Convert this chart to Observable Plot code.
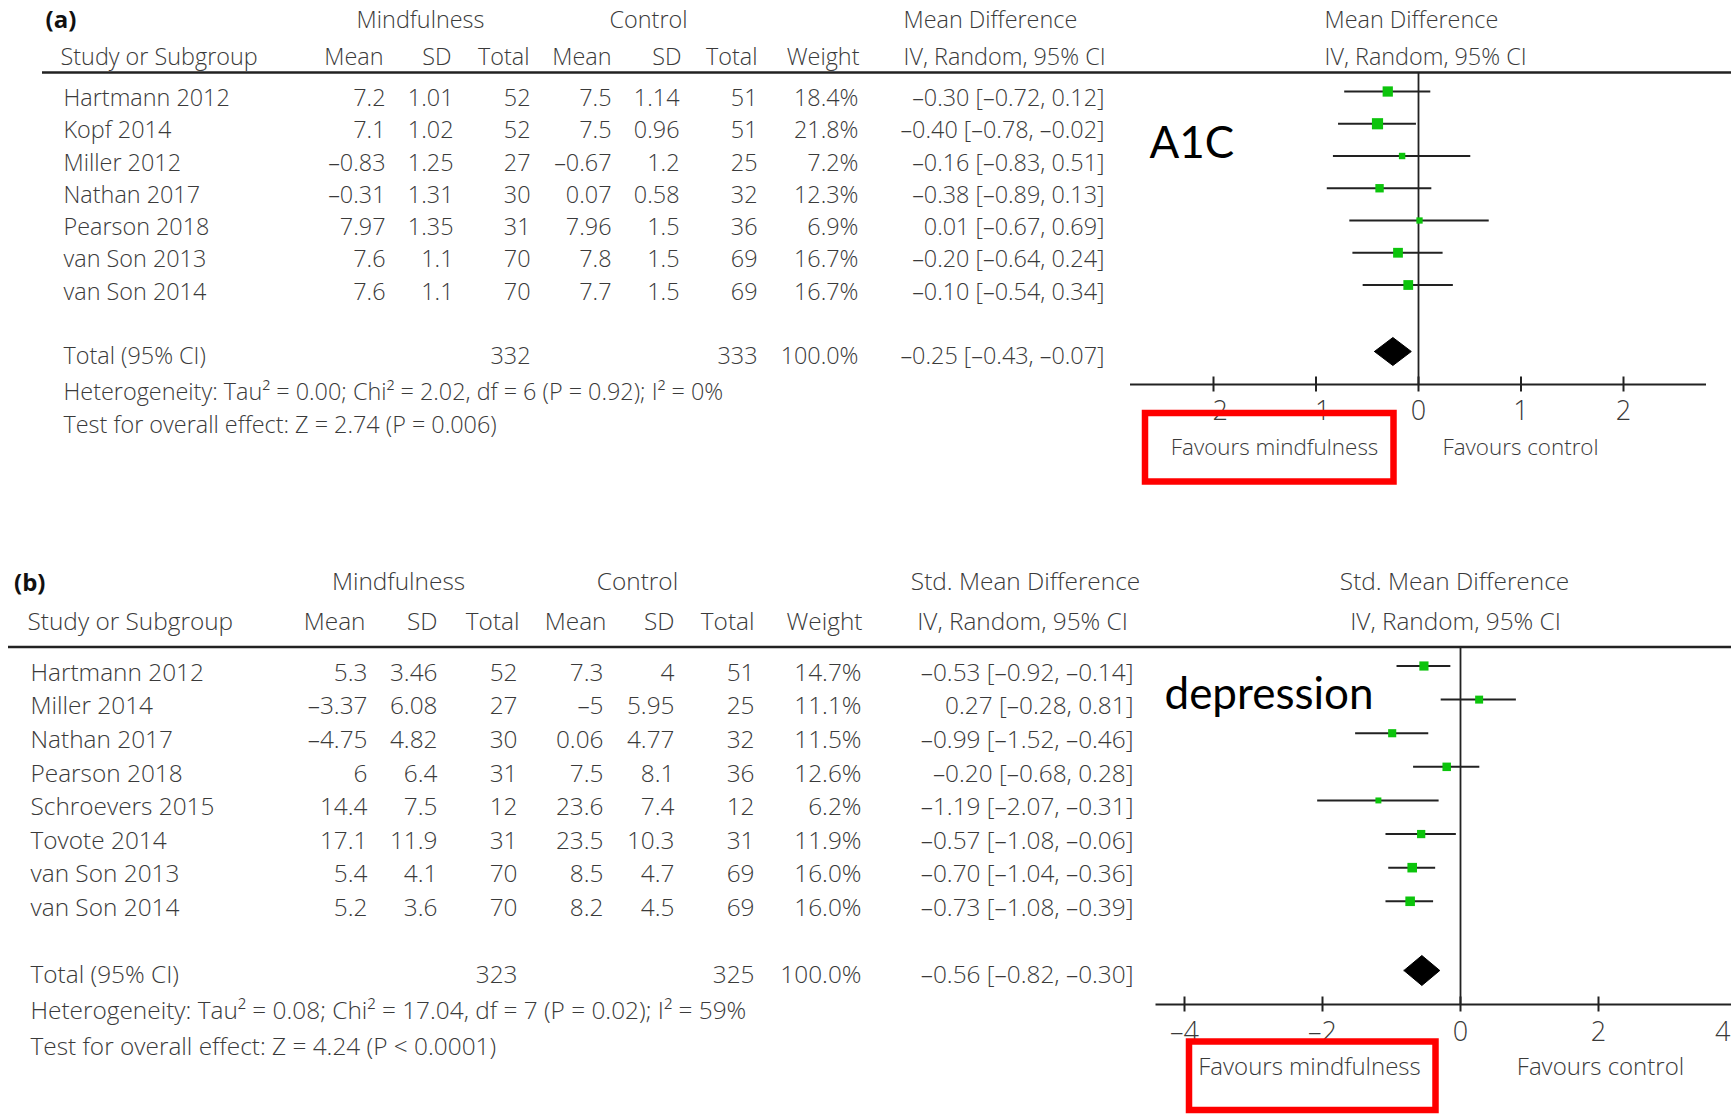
<!DOCTYPE html>
<html><head><meta charset="utf-8">
<script src="https://cdn.jsdelivr.net/npm/d3@7"></script>
<script src="https://cdn.jsdelivr.net/npm/@observablehq/plot@0.6"></script>
<style>
html,body{margin:0;padding:0;background:#fff;}
#chart{width:1731px;height:1115px;overflow:hidden;background:#fff;}
#chart svg{display:block;}
</style></head><body><div id="chart"></div>
<script>
// ---------- Panel (a): A1C ----------
const studiesA = ["Hartmann 2012","Kopf 2014","Miller 2012","Nathan 2017","Pearson 2018","van Son 2013","van Son 2014"];
const mMeanA = [7.2, 7.1, -0.83, -0.31, 7.97, 7.6, 7.6];
const mSdA   = [1.01, 1.02, 1.25, 1.31, 1.35, 1.1, 1.1];
const mNA    = [52, 52, 27, 30, 31, 70, 70];
const cMeanA = [7.5, 7.5, -0.67, 0.07, 7.96, 7.8, 7.7];
const cSdA   = [1.14, 0.96, 1.2, 0.58, 1.5, 1.5, 1.5];
const cNA    = [51, 51, 25, 32, 36, 69, 69];
const weightA = [18.4, 21.8, 7.2, 12.3, 6.9, 16.7, 16.7];
const estA = [-0.30, -0.40, -0.16, -0.38, 0.01, -0.20, -0.10];
const loA  = [-0.72, -0.78, -0.83, -0.89, -0.67, -0.64, -0.54];
const hiA  = [0.12, -0.02, 0.51, 0.13, 0.69, 0.24, 0.34];
const totalNA = [332, 333];
const totalWeightA = 100.0;
const totalCIA = [-0.25, -0.43, -0.07];
const hetA = "Heterogeneity: Tau² = 0.00; Chi² = 2.02, df = 6 (P = 0.92); I² = 0%";
const testA = "Test for overall effect: Z = 2.74 (P = 0.006)";
const ticksA = [-2, -1, 0, 1, 2];
const methodA = ["Mean Difference", "IV, Random, 95% CI"];
const labelA = "A1C";

// ---------- Panel (b): depression ----------
const studiesB = ["Hartmann 2012","Miller 2014","Nathan 2017","Pearson 2018","Schroevers 2015","Tovote 2014","van Son 2013","van Son 2014"];
const mMeanB = [5.3, -3.37, -4.75, 6, 14.4, 17.1, 5.4, 5.2];
const mSdB   = [3.46, 6.08, 4.82, 6.4, 7.5, 11.9, 4.1, 3.6];
const mNB    = [52, 27, 30, 31, 12, 31, 70, 70];
const cMeanB = [7.3, -5, 0.06, 7.5, 23.6, 23.5, 8.5, 8.2];
const cSdB   = [4, 5.95, 4.77, 8.1, 7.4, 10.3, 4.7, 4.5];
const cNB    = [51, 25, 32, 36, 12, 31, 69, 69];
const weightB = [14.7, 11.1, 11.5, 12.6, 6.2, 11.9, 16.0, 16.0];
const estB = [-0.53, 0.27, -0.99, -0.20, -1.19, -0.57, -0.70, -0.73];
const loB  = [-0.92, -0.28, -1.52, -0.68, -2.07, -1.08, -1.04, -1.08];
const hiB  = [-0.14, 0.81, -0.46, 0.28, -0.31, -0.06, -0.36, -0.39];
const totalNB = [323, 325];
const totalWeightB = 100.0;
const totalCIB = [-0.56, -0.82, -0.30];
const hetB = "Heterogeneity: Tau² = 0.08; Chi² = 17.04, df = 7 (P = 0.02); I² = 59%";
const testB = "Test for overall effect: Z = 4.24 (P < 0.0001)";
const ticksB = [-4, -2, 0, 2, 4];
const methodB = ["Std. Mean Difference", "IV, Random, 95% CI"];
const labelB = "depression";

const colHeaders = ["Mean", "SD", "Total", "Mean", "SD", "Total", "Weight"];
const favours = ["Favours mindfulness", "Favours control"];

// ---------- helpers ----------
const INK = "#3a3a3a";
const LINE = "#222";
const GREEN = "#0cc40c";
const WEIGHT = 350;
const dash = v => String(v).replace("-", "\u2013");
const pct = v => v.toFixed(1) + "%";
const ciText = (e, l, h) => `${dash(e.toFixed(2))} [${dash(l.toFixed(2))}, ${dash(h.toFixed(2))}]`;

function panel(d, L) {
  const n = d.studies.length;
  const rows = d.studies.map((s, i) => ({
    i, study: s, mMean: d.mMean[i], mSd: d.mSd[i], mN: d.mN[i],
    cMean: d.cMean[i], cSd: d.cSd[i], cN: d.cN[i], w: d.weight[i],
    est: d.est[i], lo: d.lo[i], hi: d.hi[i]
  }));
  const T = n + 1; // total row index
  const rowStep = (L.rowTotal - L.row0) / T;
  const ry = px => (px - L.row0) / rowStep;
  const [xd0, xd1] = L.xDomain, [xr0, xr1] = L.xRange;
  const rx = px => xd0 + (px - xr0) / (xr1 - xr0) * (xd1 - xd0);
  const toPx = v => xr0 + (v - xd0) / (xd1 - xd0) * (xr1 - xr0);
  const font = {fontFamily: "Open Sans", fontWeight: WEIGHT, fill: INK, fontSize: L.fs};

  const label = (txt, x, y, anchor = "start", o = {}) =>
    Plot.text([txt], {text: t => t, frameAnchor: "top-left", dx: x, dy: y,
      lineAnchor: "middle", textAnchor: anchor, ...font, ...o});
  const col = (acc, x) =>
    Plot.text(rows, {y: "i", text: acc, frameAnchor: "left", dx: x,
      textAnchor: "end", lineAnchor: "middle", ...font});
  const totalCell = (txt, x, anchor = "end") =>
    Plot.text([txt], {y: T, text: t => t, frameAnchor: "left", dx: x,
      textAnchor: anchor, lineAnchor: "middle", ...font});

  const [tEst, tLo, tHi] = d.totalCI;
  const hh = L.diamondHalf / rowStep;
  const diamond = [
    {x: tLo, y: T}, {x: tEst, y: T - hh}, {x: tHi, y: T}, {x: tEst, y: T + hh}, {x: tLo, y: T}
  ];
  // tick labels that would fall past the right edge are right-aligned to the edge
  const inTicks = d.ticks.filter(t => toPx(t) < 1731 - 8);
  const edgeTicks = d.ticks.filter(t => toPx(t) >= 1731 - 8);
  const tickFont = {fontFamily: "Open Sans", fontWeight: WEIGHT, fill: INK, fontSize: L.tickFs, lineAnchor: "middle"};

  const marks = [
    // headers
    label(d.group, L.groupX, L.groupY, "start", {fontWeight: "bold", fill: "#111", fontSize: L.groupFs}),
    label("Mindfulness", L.mindX, L.hdrY1, "middle"),
    label("Control", L.ctrlX, L.hdrY1, "middle"),
    label(d.method[0], L.mdHdr[0], L.hdrY1, L.mdHdr[1]),
    label(d.method[1], L.mdHdr2[0], L.hdrY2, L.mdHdr2[1]),
    label(d.method[0], L.plotHdr[0], L.hdrY1, L.plotHdr[1]),
    label(d.method[1], L.plotHdr2[0], L.hdrY2, L.plotHdr2[1]),
    label("Study or Subgroup", L.studyHdrX, L.hdrY2),
    ...colHeaders.map((h, k) => label(h, L.colHdr[k], L.hdrY2, "end")),
    Plot.ruleY([ry(L.ruleY)], {x1: rx(L.ruleX0), x2: rx(1731), stroke: LINE, strokeWidth: 2.5}),
    // table body
    Plot.text(rows, {y: "i", text: "study", frameAnchor: "left", dx: L.studyX,
      textAnchor: "start", lineAnchor: "middle", ...font}),
    col(r => dash(r.mMean), L.colVal[0]),
    col(r => dash(r.mSd), L.colVal[1]),
    col(r => String(r.mN), L.colVal[2]),
    col(r => dash(r.cMean), L.colVal[3]),
    col(r => dash(r.cSd), L.colVal[4]),
    col(r => String(r.cN), L.colVal[5]),
    col(r => pct(r.w), L.colVal[6]),
    col(r => ciText(r.est, r.lo, r.hi), L.ciRight),
    // total row
    totalCell("Total (95% CI)", L.studyX, "start"),
    totalCell(String(d.totalN[0]), L.colVal[2]),
    totalCell(String(d.totalN[1]), L.colVal[5]),
    totalCell(pct(d.totalWeight), L.colVal[6]),
    totalCell(ciText(tEst, tLo, tHi), L.ciRight),
    label(d.het, L.studyX, L.hetY),
    label(d.test, L.studyX, L.testY),
    // forest plot
    Plot.ruleX([0], {y1: ry(L.ruleY), y2: ry(L.axisY), stroke: LINE, strokeWidth: 1.8}),
    Plot.ruleY([ry(L.axisY)], {x1: rx(L.axisX0), x2: rx(L.axisX1), stroke: LINE, strokeWidth: 2}),
    Plot.ruleX(d.ticks, {x: t => t, y1: ry(L.axisY - 7.5), y2: ry(L.axisY + 7.5), stroke: LINE, strokeWidth: 2}),
    Plot.text(inTicks, {x: t => t, y: ry(L.tickLabelY), text: t => dash(t), ...tickFont}),
    Plot.text(edgeTicks, {y: ry(L.tickLabelY), text: t => dash(t), frameAnchor: "right", textAnchor: "end", dx: -1, ...tickFont}),
    Plot.ruleY(rows, {y: "i", x1: "lo", x2: "hi", dy: -7, stroke: LINE, strokeWidth: 2}),
    Plot.dot(rows, {x: "est", y: "i", r: "w", symbol: "square", fill: GREEN, stroke: null, dy: -7}),
    Plot.line(diamond, {x: "x", y: "y", fill: "black", stroke: "black", strokeWidth: 1, dy: -5}),
    label(favours[0], L.favX[0], L.favY, "middle", {fontSize: L.favFs}),
    label(favours[1], L.favX[1], L.favY, "middle", {fontSize: L.favFs}),
    // annotation
    label(d.label, L.labelX, L.labelY, "start", {fontFamily: "Lato", fontWeight: 400, fontSize: L.labelFs, fill: "#000"}),
    Plot.rect([0], {x1: rx(L.box[0]), x2: rx(L.box[1]), y1: ry(L.box[2]), y2: ry(L.box[3]),
      fill: "none", stroke: "#ff0000", strokeWidth: 6.5})
  ];

  return Plot.plot({
    width: 1731, height: L.height,
    marginTop: 0, marginRight: 0, marginBottom: 0, marginLeft: 0,
    x: {domain: L.xDomain, range: L.xRange, axis: null},
    y: {domain: [0, T], range: [L.row0, L.rowTotal], axis: null},
    r: {type: "sqrt", domain: [0, 100], range: [0, 13.5]},
    style: {background: "white", color: INK, fontFamily: "Open Sans"},
    marks
  });
}

const dataA = {group: "(a)", studies: studiesA, mMean: mMeanA, mSd: mSdA, mN: mNA, cMean: cMeanA, cSd: cSdA, cN: cNA,
  weight: weightA, est: estA, lo: loA, hi: hiA, totalN: totalNA, totalWeight: totalWeightA, totalCI: totalCIA,
  het: hetA, test: testA, ticks: ticksA, method: methodA, label: labelA};
const dataB = {group: "(b)", studies: studiesB, mMean: mMeanB, mSd: mSdB, mN: mNB, cMean: cMeanB, cSd: cSdB, cN: cNB,
  weight: weightB, est: estB, lo: loB, hi: hiB, totalN: totalNB, totalWeight: totalWeightB, totalCI: totalCIB,
  het: hetB, test: testB, ticks: ticksB, method: methodB, label: labelB};

const layoutA = {
  height: 545, fs: 23.4, tickFs: 27, favFs: 22.4, groupFs: 24, labelFs: 44,
  groupX: 45, groupY: 20, hdrY1: 20, hdrY2: 57, mindX: 420, ctrlX: 648,
  mdHdr: [903, "start"], mdHdr2: [903, "start"], plotHdr: [1324, "start"], plotHdr2: [1324, "start"],
  studyHdrX: 60, studyX: 63,
  colHdr: [383, 451, 529, 611, 681, 757, 859],
  colVal: [385, 453, 530, 611, 679, 757, 858], ciRight: 1104,
  ruleY: 72, ruleX0: 42, row0: 98, rowTotal: 356, hetY: 392, testY: 425,
  xDomain: [-2, 2], xRange: [1213, 1623],
  axisY: 384, axisX0: 1130, axisX1: 1706, tickLabelY: 410.5,
  diamondHalf: 14, favX: [1274, 1520], favY: 447,
  labelX: 1149, labelY: 143, box: [1145, 1393.5, 413, 481.5]
};
const layoutB = {
  height: 570, fs: 24.4, tickFs: 27, favFs: 24, groupFs: 24, labelFs: 44,
  groupX: 13.5, groupY: 38, hdrY1: 37, hdrY2: 77, mindX: 398, ctrlX: 637,
  mdHdr: [1025, "middle"], mdHdr2: [1022, "middle"], plotHdr: [1454, "middle"], plotHdr2: [1455, "middle"],
  studyHdrX: 27, studyX: 30,
  colHdr: [365, 437, 519, 606, 674, 754, 862],
  colVal: [367, 437, 517, 603, 674, 754, 861], ciRight: 1133,
  ruleY: 101.6, ruleX0: 8, row0: 127.5, rowTotal: 430, hetY: 466, testY: 501.6,
  xDomain: [-4, 4], xRange: [1184, 1736],
  axisY: 459, axisX0: 1155.5, axisX1: 1731, tickLabelY: 486.5,
  diamondHalf: 15, favX: [1309, 1600], favY: 522,
  labelX: 1164, labelY: 149, box: [1189, 1435.5, 496.5, 565]
};

const root = document.getElementById("chart");
root.append(panel(dataA, layoutA));
root.append(panel(dataB, layoutB));
</script>
</body></html>
